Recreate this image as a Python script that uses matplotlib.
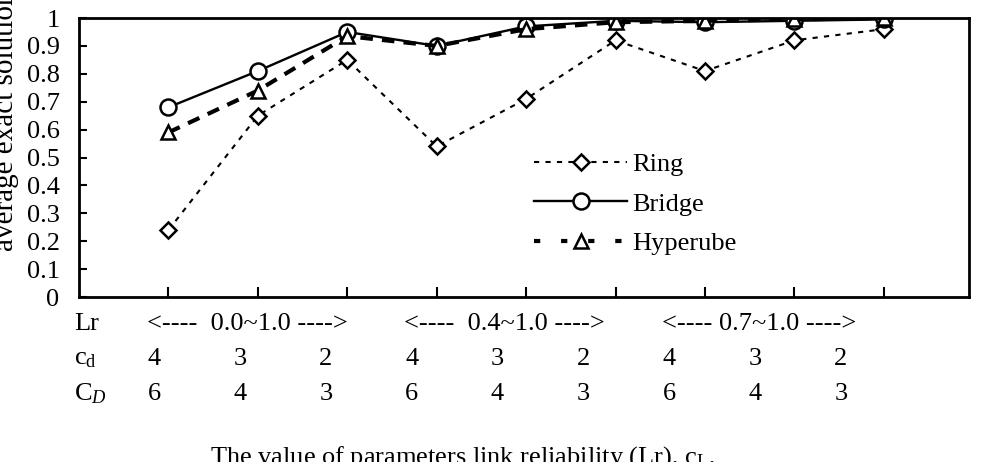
import matplotlib
matplotlib.use("Agg")
import matplotlib.pyplot as plt
from matplotlib.lines import Line2D

plt.rcParams['font.family'] = ['Liberation Serif', 'DejaVu Serif']
plt.rcParams['mathtext.fontset'] = 'custom'
plt.rcParams['mathtext.rm'] = 'Liberation Serif'
plt.rcParams['mathtext.it'] = 'Liberation Serif:italic'

# data
points = [1, 2, 3, 4, 5, 6, 7, 8, 9]
ring = [0.24, 0.65, 0.85, 0.54, 0.71, 0.92, 0.81, 0.92, 0.96]
bridge = [0.68, 0.81, 0.95, 0.90, 0.97, 0.99, 0.985, 0.99, 0.995]
hyperube = [0.59, 0.74, 0.935, 0.90, 0.96, 0.985, 0.99, 0.995, 1.0]

lr_groups = ["<----  0.0~1.0 ---->", "<----  0.4~1.0 ---->", "<---- 0.7~1.0 ---->"]
cd_vals = ["4", "3", "2", "4", "3", "2", "4", "3", "2"]
CD_vals = ["6", "4", "3", "6", "4", "3", "6", "4", "3"]
y_ticks = [0, 0.1, 0.2, 0.3, 0.4, 0.5, 0.6, 0.7, 0.8, 0.9, 1]
y_ticklabels = ["0", "0.1", "0.2", "0.3", "0.4", "0.5", "0.6", "0.7", "0.8", "0.9", "1"]

fs = 19

fig = plt.figure(figsize=(9.81, 4.62), dpi=100)
ax = fig.add_axes([0.0805, 0.357, 0.907, 0.604])

ring_ls = (0, (2.5, 3))
hyp_ls = (0, (3, 2.2))
ax.plot(points, ring, color='black', lw=1.5, linestyle=ring_ls,
        marker='D', ms=8, mfc='white', mec='black', mew=1.8, label='Ring')
ax.plot(points, bridge, color='black', lw=1.7, linestyle='-',
        marker='o', ms=11.5, mfc='white', mec='black', mew=1.8, label='Bridge')
ax.plot(points, hyperube, color='black', lw=3, linestyle=hyp_ls,
        marker='^', ms=10, mfc='white', mec='black', mew=1.8, label='Hyperube')

ax.set_xlim(0, 9.95)
ax.set_ylim(0, 1)
ax.set_xticks(points)
ax.set_xticklabels([])
ax.set_yticks(y_ticks)
ax.set_yticklabels(y_ticklabels, fontsize=fs)
ax.tick_params(axis='both', direction='in', length=6, width=1.5)
ax.tick_params(axis='y', pad=14)
ax.tick_params(axis='x', length=7)
for sp in ax.spines.values():
    sp.set_linewidth(2)

handles = [
    Line2D([], [], color='black', lw=1.5, linestyle=(0, (2.5, 3)), marker='D', ms=8,
           mfc='white', mec='black', mew=1.8),
    Line2D([], [], color='black', lw=1.7, marker='o', ms=11.5, mfc='white', mec='black', mew=1.8),
    Line2D([], [], color='black', lw=3, linestyle=(0, (1.5, 5)), marker='^', ms=10,
           mfc='white', mec='black', mew=1.8),
]
ax.legend(handles, ['Ring', 'Bridge', 'Hyperube'], loc='upper left',
          bbox_to_anchor=(0.5, 0.555), frameon=False, fontsize=fs,
          handlelength=3.5, handletextpad=0.2, labelspacing=0.6, borderaxespad=0)

# parameter rows below the axes
trans = ax.get_xaxis_transform()
row_y = [-0.097, -0.222, -0.347]
ax.text(-0.05, row_y[0], "Lr", transform=trans, fontsize=fs, ha='left', va='center')
ax.text(-0.05, row_y[1], "c$_\\mathrm{d}$", transform=trans, fontsize=fs, ha='left', va='center')
ax.text(-0.05, row_y[2], "C$_{D}$", transform=trans, fontsize=fs, ha='left', va='center')
for g, label in enumerate(lr_groups):
    x0 = 0.96 * points[3 * g] - 0.2
    ax.text(x0, row_y[0], label, transform=trans, fontsize=fs, ha='left', va='center')
for i, p in enumerate(points):
    x = 0.96 * p - 0.12
    ax.text(x, row_y[1], cd_vals[i], transform=trans, fontsize=fs, ha='center', va='center')
    ax.text(x, row_y[2], CD_vals[i], transform=trans, fontsize=fs, ha='center', va='center')

fig.text(0.214, -0.003, "The value of parameters link reliability (Lr), c$_\\mathrm{L}$,",
         fontsize=fs, ha='left', va='baseline')
fig.text(0.006, 0.738, "average exact solution", fontsize=fs + 2, rotation=90,
         ha='center', va='center')

fig.savefig("out.png", dpi=100)
